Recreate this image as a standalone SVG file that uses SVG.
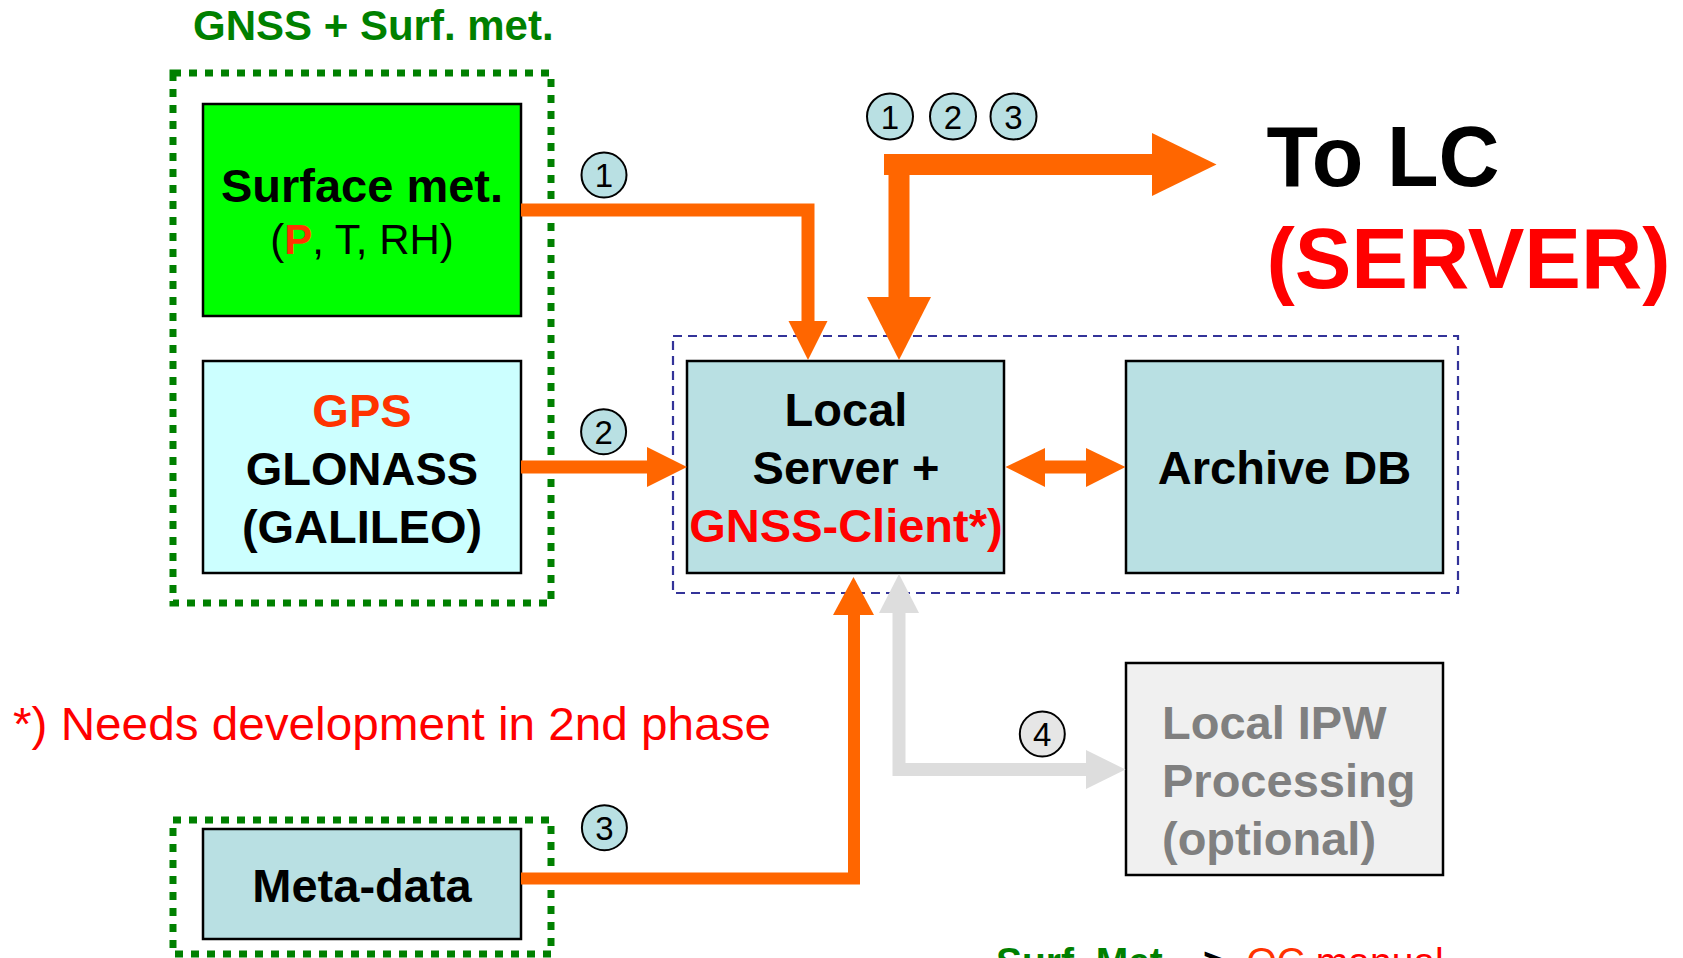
<svg xmlns="http://www.w3.org/2000/svg" width="1683" height="958" viewBox="0 0 1683 958">
<style>
text{font-family:"Liberation Sans",Arial,sans-serif}
.b{font-weight:bold}
.box{stroke:#000;stroke-width:2.5}
.dot{fill:none;stroke:#008000;stroke-width:7;stroke-dasharray:8 8}
.ln{fill:none;stroke:#FF6600;stroke-linejoin:miter}
.hd{fill:#FF6600}
.num{font-size:33px;text-anchor:middle;fill:#000}
.circ{fill:#B9E0E3;stroke:#000;stroke-width:2}
.t47{font-size:47px;font-weight:bold;text-anchor:middle}
</style>
<rect width="1683" height="958" fill="#fff"/>

<g id="group-gnss">
<text x="193" y="40" class="b" font-size="42" fill="#008000">GNSS + Surf. met.</text>
<rect class="dot" x="173" y="73" width="378" height="530"/>
</g>
<g id="group-meta">
<rect class="dot" x="173" y="820" width="378" height="134"/>
</g>

<g id="node-surface">
<rect class="box" x="203" y="104" width="318" height="212" fill="#00FF00"/>
<text class="t47" x="362" y="202">Surface met.</text>
<text x="362" y="254" font-size="42" text-anchor="middle">(<tspan fill="#FF3300" font-weight="bold">P</tspan>, T, RH)</text>
</g>

<g id="node-gps">
<rect class="box" x="203" y="361" width="318" height="212" fill="#CCFFFF"/>
<text class="t47" x="362" y="427" fill="#FF3300">GPS</text>
<text class="t47" x="362" y="485">GLONASS</text>
<text class="t47" x="362" y="543">(GALILEO)</text>
</g>

<g id="node-meta">
<rect class="box" x="203" y="829" width="318" height="110" fill="#B9E0E3"/>
<text class="t47" x="362" y="902">Meta-data</text>
</g>

<g id="group-server">
<rect x="673" y="336" width="785" height="257" fill="none" stroke="#333399" stroke-width="2.2" stroke-dasharray="9 6"/>
</g>

<g id="node-local">
<rect class="box" x="687" y="361" width="317" height="212" fill="#B9E0E3"/>
<text class="t47" x="846" y="426">Local</text>
<text class="t47" x="846" y="484">Server +</text>
<text class="t47" x="846" y="542" fill="#FF0000">GNSS-Client*)</text>
</g>

<g id="node-archive">
<rect class="box" x="1126" y="361" width="317" height="212" fill="#B9E0E3"/>
<text class="t47" x="1284.5" y="484">Archive DB</text>
</g>

<g id="node-ipw">
<rect class="box" x="1126" y="663" width="317" height="212" fill="#F0F0F0"/>
<text x="1162" y="739" class="b" font-size="47" fill="#808080">Local IPW</text>
<text x="1162" y="797" class="b" font-size="47" fill="#808080">Processing</text>
<text x="1162" y="855" class="b" font-size="47" fill="#808080">(optional)</text>
</g>

<g id="node-lc">
<text x="1266.5" y="186" class="b" font-size="86" textLength="233" lengthAdjust="spacingAndGlyphs">To LC</text>
<text x="1266.5" y="288" class="b" font-size="86" fill="#FF0000" textLength="404" lengthAdjust="spacingAndGlyphs">(SERVER)</text>
</g>

<g id="connectors">
<path class="ln" stroke-width="13" d="M521,210 H808 V322"/>
<polygon class="hd" points="788.5,321 827.5,321 808,360"/>
<path class="ln" stroke-width="13" d="M521,467 H648"/>
<polygon class="hd" points="647,447 647,487 687,467"/>
<path class="ln" stroke-width="12" d="M521,878.5 H854 V614"/>
<polygon class="hd" points="833,615 874,615 853.5,577"/>
<path fill="none" stroke="#DDDDDD" stroke-width="13" d="M899,612 V769.5 H1087"/>
<polygon fill="#DDDDDD" points="879,613 919,613 899,574"/>
<polygon fill="#DDDDDD" points="1086,750 1086,789 1125.5,769.5"/>
<path class="ln" stroke-width="13" d="M1044,467 H1087"/>
<polygon class="hd" points="1045,448 1045,487 1005.5,467"/>
<polygon class="hd" points="1086,448 1086,487 1125.5,467"/>
<rect class="hd" x="884" y="154" width="269" height="21"/>
<rect class="hd" x="888.5" y="154" width="21" height="144"/>
<polygon class="hd" points="867,297 931,297 899,360"/>
<polygon class="hd" points="1152,133 1152,196 1216.5,164.5"/>
</g>

<g id="labels">
<circle class="circ" cx="604" cy="175" r="22.5"/><text class="num" x="604" y="187">1</text>
<circle class="circ" cx="603.6" cy="431.7" r="22.5"/><text class="num" x="603.6" y="443.7">2</text>
<circle class="circ" cx="604.4" cy="827.7" r="22.5"/><text class="num" x="604.4" y="839.7">3</text>
<circle cx="1042.3" cy="734" r="22.5" fill="#E6E6E6" stroke="#000" stroke-width="2"/><text class="num" x="1042.3" y="746" fill="#808080">4</text>
<circle class="circ" cx="890" cy="116.5" r="23"/><text class="num" x="890" y="128.5">1</text>
<circle class="circ" cx="953" cy="116.5" r="23"/><text class="num" x="953" y="128.5">2</text>
<circle class="circ" cx="1013.5" cy="116.5" r="23"/><text class="num" x="1013.5" y="128.5">3</text>
</g>

<g id="notes">
<text x="13" y="740" font-size="47" fill="#FF0000" textLength="758" lengthAdjust="spacingAndGlyphs">*) Needs development in 2nd phase</text>
<text y="975" font-size="39"><tspan x="996" font-weight="bold" fill="#008000">Surf. Met.</tspan><tspan x="1190" font-weight="bold" fill="#000">-&gt;</tspan><tspan x="1246.5" fill="#FF3300">QC</tspan><tspan fill="#FF0000"> manual</tspan></text>
</g>
</svg>
